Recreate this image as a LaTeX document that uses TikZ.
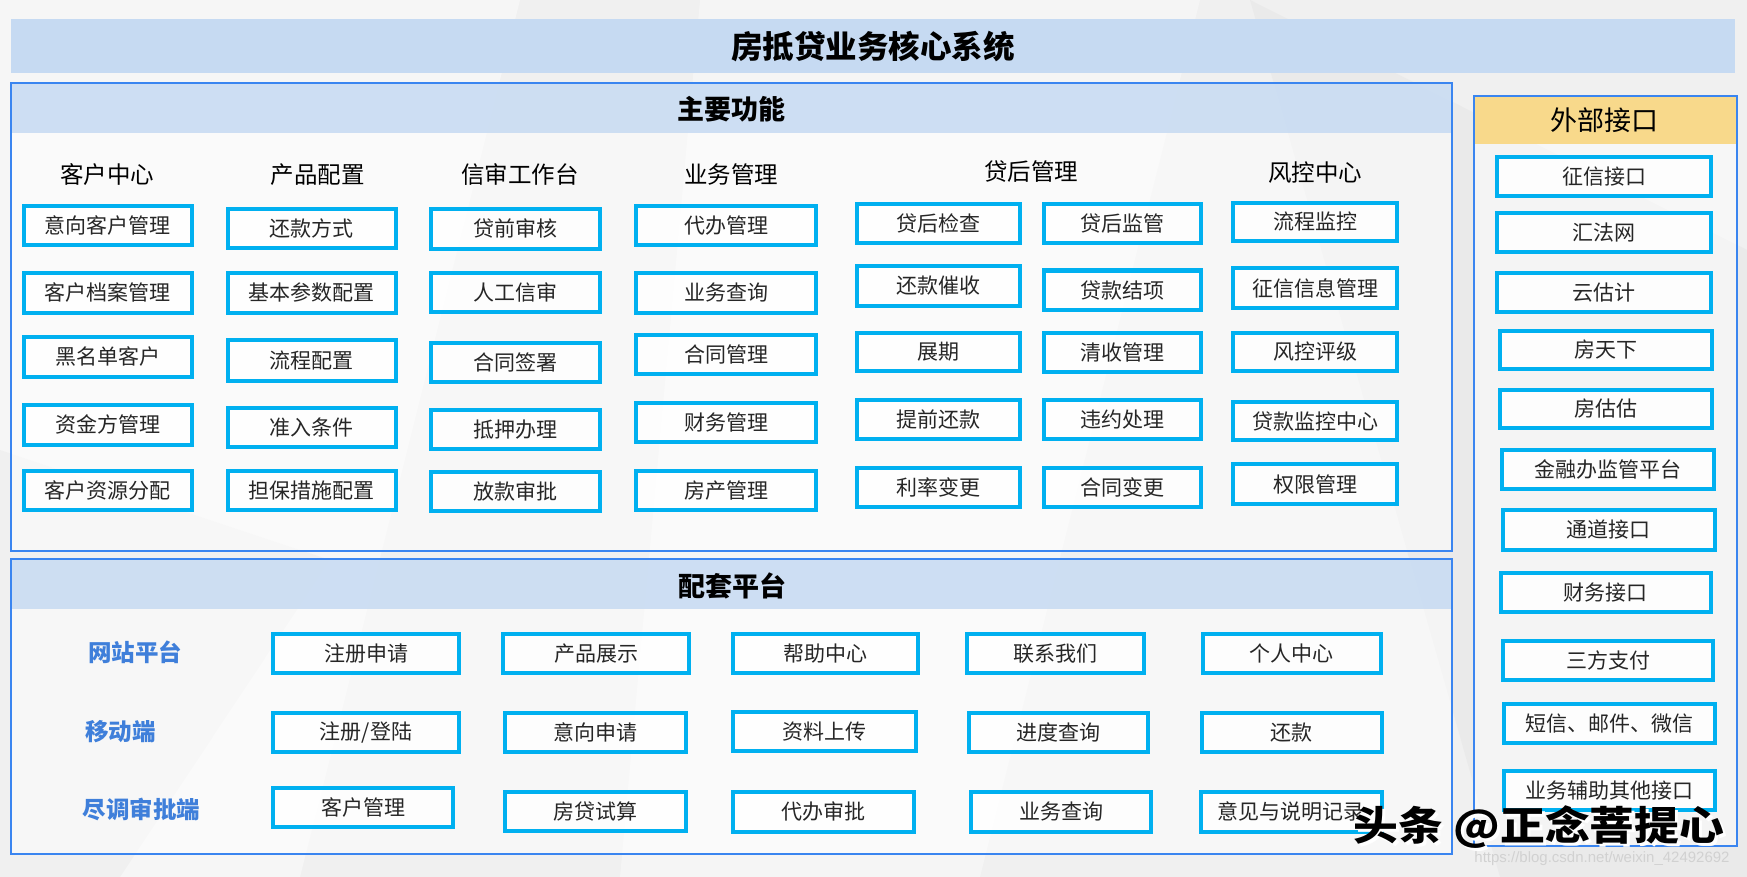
\documentclass[tikz,border=0pt]{standalone}
\usepackage{fontspec}
\setmainfont{Noto Sans CJK SC}
\newfontfamily\cjk{Noto Sans CJK SC}
\newfontfamily\urlfont{Liberation Sans}
\definecolor{bgc}{HTML}{F0F0F0}
\definecolor{band}{HTML}{C6DAF2}
\definecolor{frameb}{HTML}{3A85F0}
\definecolor{cyanb}{HTML}{00B0F0}
\definecolor{yel}{HTML}{F8D98B}
\definecolor{txt}{HTML}{262626}
\definecolor{lab}{HTML}{3F7FDA}
\tikzset{
  bx/.style={draw=cyanb, line width=4pt, fill=white, fill opacity=0.85, text opacity=1, text=txt, inner sep=0pt,
    font=\cjk\fontsize{21}{21}\selectfont},
  frm/.style={draw=frameb, line width=2pt},
  head/.style={font=\cjk\fontsize{23.5}{24}\selectfont, text=black, inner sep=0pt},
  ttl/.style={font=\cjk\bfseries\fontsize{27}{28}\selectfont, text=black, inner sep=0pt},
  rowlab/.style={font=\cjk\bfseries\fontsize{23.5}{24}\selectfont, text=lab, inner sep=0pt},
  wmark/.style={font=\cjk\bfseries\fontsize{40}{40}\selectfont, inner sep=0pt, xscale=1.12}
}
\newcommand\bx[6]{\node[bx,minimum width={#4-#2-4},minimum height={#5-#3-4}] (#1) at ({(#2+#4)/2},{(#3+#5)/2}) {#6};}
\begin{document}
\begin{tikzpicture}[x=1pt,y=-1pt]
\useasboundingbox (0,0) rectangle (1747,877);
% background
\fill[bgc] (0,0) rectangle (1747,877);
\fill[white,opacity=0.45] (0,0) -- (520,0) -- (300,877) -- (0,877) -- cycle;
\fill[white,opacity=0.35] (700,0) -- (1200,0) -- (980,877) -- (620,877) -- cycle;
\fill[gray!30,opacity=0.25] (1250,0) -- (1747,250) -- (1747,877) -- (1500,877) -- cycle;
\fill[gray!30,opacity=0.2] (0,450) -- (330,560) -- (120,877) -- (0,877) -- cycle;
% title bar
\fill[band] (11,19) rectangle (1735,72.7);
\node[font=\cjk\bfseries\fontsize{31.5}{32}\selectfont, inner sep=0pt] (title) at (873,46.5) {房抵贷业务核心系统};
% main function frame
\fill[white,opacity=0.5] (11,83.5) rectangle (1452,550.5);
\fill[band,opacity=0.85] (12,84.5) rectangle (1451,132.7);
\draw[frm] (11,83.5) rectangle (1452,550.5);
\node[ttl] (mainttl) at (731.5,109) {主要功能};
\node[head] (h1) at (107,175) {客户中心};
\node[head] (h2) at (317.5,175) {产品配置};
\node[head] (h3) at (520,175) {信审工作台};
\node[head] (h4) at (731,175) {业务管理};
\node[head] (h5) at (1031,171.5) {贷后管理};
\node[head] (h6) at (1315,172.5) {风控中心};
% column 1
\bx{a1}{21.8}{204}{194}{246.7}{意向客户管理}
\bx{a2}{21.8}{270.7}{194}{315}{客户档案管理}
\bx{a3}{21.8}{334.7}{194}{379}{黑名单客户}
\bx{a4}{21.8}{402.7}{194}{446.7}{资金方管理}
\bx{a5}{21.8}{468.7}{194}{512}{客户资源分配}
% column 2
\bx{b1}{225.6}{206.7}{397.8}{250}{还款方式}
\bx{b2}{225.6}{270.7}{397.8}{315}{基本参数配置}
\bx{b3}{225.6}{338}{397.8}{382.7}{流程配置}
\bx{b4}{225.6}{405.7}{397.8}{449}{准入条件}
\bx{b5}{225.6}{468.7}{397.8}{512}{担保措施配置}
% column 3
\bx{c1}{429.4}{206.7}{601.6}{251}{贷前审核}
\bx{c2}{429.4}{270.7}{601.6}{314}{人工信审}
\bx{c3}{429.4}{341}{601.6}{384}{合同签署}
\bx{c4}{429.4}{408}{601.6}{451}{抵押办理}
\bx{c5}{429.4}{470}{601.6}{513}{放款审批}
% column 4
\bx{d1}{634}{204}{818}{246.7}{代办管理}
\bx{d2}{634}{270.7}{818}{315}{业务查询}
\bx{d3}{634}{332.7}{818}{376}{合同管理}
\bx{d4}{634}{401}{818}{444}{财务管理}
\bx{d5}{634}{468.7}{818}{512}{房产管理}
% column 5a
\bx{e1}{854.6}{201.7}{1021.6}{245}{贷后检查}
\bx{e2}{854.6}{264}{1021.6}{307.5}{还款催收}
\bx{e3}{854.6}{331}{1021.6}{373}{展期}
\bx{e4}{854.6}{397.8}{1021.6}{441}{提前还款}
\bx{e5}{854.6}{465.7}{1021.6}{509}{利率变更}
% column 5b
\bx{f1}{1041.8}{201.7}{1202.8}{245}{贷后监管}
\bx{f2}{1041.8}{268.5}{1202.8}{312}{贷款结项}
\bx{f3}{1041.8}{331}{1202.8}{374.4}{清收管理}
\bx{f4}{1041.8}{397.8}{1202.8}{441}{违约处理}
\bx{f5}{1041.8}{465.7}{1202.8}{509}{合同变更}
% column 6
\bx{g1}{1231}{200.6}{1399.4}{243}{流程监控}
\bx{g2}{1231}{266.3}{1399.4}{309.7}{征信信息管理}
\bx{g3}{1231}{331}{1399.4}{373}{风控评级}
\bx{g4}{1231}{400}{1399.4}{442.3}{贷款监控中心}
\bx{g5}{1231}{462.4}{1399.4}{505.8}{权限管理}
% external interface frame
\fill[white,opacity=0.5] (1473.6,96) rectangle (1736.5,846);
\fill[yel] (1474.6,97) rectangle (1735.5,144);
\draw[frm] (1473.6,96) rectangle (1736.5,846);
\node[font=\cjk\fontsize{27}{28}\selectfont, inner sep=0pt] (extttl) at (1604,120) {外部接口};
\bx{x1}{1495.3}{155}{1712.7}{197.7}{征信接口}
\bx{x2}{1495.3}{211}{1712.7}{254}{汇法网}
\bx{x3}{1495.3}{270.7}{1712.7}{314}{云估计}
\bx{x4}{1497.5}{328.7}{1713.5}{371}{房天下}
\bx{x5}{1497.5}{387.7}{1713.5}{430}{房估估}
\bx{x6}{1499.7}{448}{1715.8}{491}{金融办监管平台}
\bx{x7}{1500.8}{508}{1717}{551.5}{通道接口}
\bx{x8}{1498.7}{570.7}{1712.7}{614}{财务接口}
\bx{x9}{1501}{638.7}{1715}{682.3}{三方支付}
\bx{x10}{1502}{701.7}{1717}{745}{短信、邮件、微信}
\bx{x11}{1502}{768.7}{1717}{811.7}{业务辅助其他接口}
% supporting platform frame
\fill[white,opacity=0.5] (11,559.3) rectangle (1452,854.3);
\fill[band,opacity=0.85] (12,560.3) rectangle (1451,609);
\draw[frm] (11,559.3) rectangle (1452,854.3);
\node[ttl] (subttl) at (732,586) {配套平台};
\node[rowlab] (r1) at (135,652.5) {网站平台};
\node[rowlab] (r2) at (120.5,731.5) {移动端};
\node[rowlab] (r3) at (141.5,809) {尽调审批端};
% row 1
\bx{p1}{271}{632}{461}{675}{注册申请}
\bx{p2}{501}{632}{691}{675}{产品展示}
\bx{p3}{731.4}{632}{920.4}{675}{帮助中心}
\bx{p4}{965}{632}{1146.3}{675}{联系我们}
\bx{p5}{1201.3}{632}{1382.6}{675}{个人中心}
% row 2
\bx{q1}{271}{711}{461}{753.7}{注册/登陆}
\bx{q2}{503.4}{711}{687.7}{753.7}{意向申请}
\bx{q3}{731.4}{710}{917.5}{752.7}{资料上传}
\bx{q4}{967.3}{711}{1150.3}{753.7}{进度查询}
\bx{q5}{1200}{711}{1383.7}{753.7}{还款}
% row 3
\bx{s1}{271}{786}{455.2}{828.7}{客户管理}
\bx{s2}{503.4}{790}{687.7}{832.7}{房贷试算}
\bx{s3}{731.4}{790}{916.4}{833.7}{代办审批}
\bx{s4}{969}{790}{1153.2}{833.7}{业务查询}
\bx{s5}{1199}{790}{1383.7}{833.7}{意见与说明记录}
% watermark
\node[wmark, text=white] (wm2) at (1542,830) {头条 @正念菩提心};
\node[wmark, text=black] (wm) at (1539,827) {头条 @正念菩提心};
\node[font=\urlfont\fontsize{15}{15}\selectfont, text=black!18, inner sep=0pt] (url) at (1602,859) {https://blog.csdn.net/weixin\_42492692};
\end{tikzpicture}
\end{document}
